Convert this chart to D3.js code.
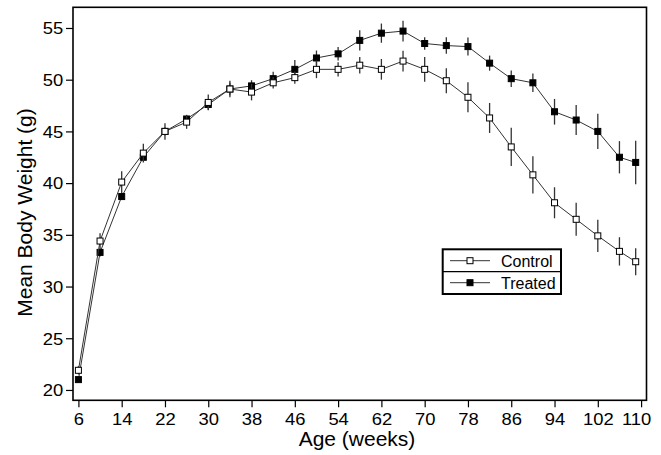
<!DOCTYPE html>
<html>
<head>
<meta charset="utf-8">
<script src="https://cdn.jsdelivr.net/npm/d3@7"></script>
<style>
  html, body { margin: 0; padding: 0; background: #fff; }
  svg { display: block; }
  text { font-family: "Liberation Sans", Arial, Helvetica, sans-serif; fill: #000; }
</style>
</head>
<body>
<svg id="chart" width="661" height="455"></svg>
<script>
// Age at weighing (weeks)
const ages = [6, 10, 14, 18, 22, 26, 30, 34, 38, 42, 46, 50, 54, 58, 62, 66, 70, 74, 78, 82, 86, 90, 94, 98, 102, 106, 109];

// Mean body weight (g) and error bar half-lengths
const controlMean = [21.9, 34.4, 40.1, 42.9, 45.0, 45.9, 47.8, 49.1, 48.8, 49.7, 50.2, 51.0, 51.0, 51.4, 51.0, 51.8, 51.0, 49.9, 48.3, 46.3, 43.5, 40.8, 38.1, 36.5, 34.9, 33.4, 32.4];
const controlErr  = [0.4, 0.75, 1.05, 0.9, 0.8, 0.65, 0.76, 0.8, 0.8, 0.55, 0.6, 0.85, 0.68, 0.8, 1.0, 1.0, 1.2, 1.2, 1.45, 1.45, 1.85, 1.8, 1.5, 1.6, 1.55, 1.37, 1.3];
const treatedMean = [21.0, 33.3, 38.7, 42.5, 45.0, 46.2, 47.6, 49.1, 49.4, 50.1, 51.0, 52.1, 52.5, 53.8, 54.5, 54.7, 53.5, 53.3, 53.2, 51.6, 50.1, 49.7, 46.9, 46.1, 45.0, 42.5, 42.0];
const treatedErr  = [0.2, 0.4, 0.3, 0.3, 0.4, 0.4, 0.5, 0.6, 0.55, 0.67, 0.9, 0.72, 0.65, 0.97, 0.93, 1.0, 0.6, 0.8, 0.87, 0.73, 0.8, 0.9, 1.24, 1.45, 1.7, 1.56, 2.1];

// Axis ticks
const xMajorTicks = [6, 14, 22, 30, 38, 46, 54, 62, 70, 78, 86, 94, 102, 110];
const xMinorTicks = [10, 18, 26, 34, 42, 50, 58, 66, 74, 82, 90, 98, 106];
const yMajorTicks = [20, 25, 30, 35, 40, 45, 50, 55];
const yMinorTicks = d3.range(19, 58).filter(v => v % 5 !== 0);

const seriesNames = ["Control", "Treated"];

const svg = d3.select("#chart");
const plotLeft = 73, plotRight = 646.5, plotTop = 7.3, plotBottom = 400.3;

const x = d3.scaleLinear().domain([5, 111]).range([plotLeft, plotRight]);
const y = d3.scaleLinear().domain([19, 57]).range([plotBottom, plotTop]);

const labelStretch = 1.15;

// X axis
const xAxis = svg.append("g").attr("transform", `translate(0,${plotBottom})`);
xAxis.call(d3.axisBottom(x).tickValues(xMinorTicks).tickSize(4).tickFormat(""));
xAxis.call(d3.axisBottom(x).tickValues(xMajorTicks).tickSize(7).tickFormat(d3.format("d")));
xAxis.selectAll(".domain").remove();
xAxis.selectAll("line").attr("stroke", "#000").attr("stroke-width", 1.2);
xAxis.selectAll("text")
  .attr("y", 0).attr("dy", 0)
  .attr("font-size", 16)
  .attr("transform", d => `translate(${d === 110 ? -5 : 0},24.7) scale(${labelStretch},1)`);

// Y axis
const yAxis = svg.append("g").attr("transform", `translate(${plotLeft},0)`);
yAxis.call(d3.axisLeft(y).tickValues(yMinorTicks).tickSize(4).tickFormat(""));
yAxis.call(d3.axisLeft(y).tickValues(yMajorTicks).tickSize(7).tickFormat(d3.format("d")));
yAxis.selectAll(".domain").remove();
yAxis.selectAll("line").attr("stroke", "#000").attr("stroke-width", 1.2);
yAxis.selectAll("text")
  .attr("x", 0).attr("dy", 0).attr("y", 0)
  .attr("font-size", 16)
  .attr("text-anchor", "end")
  .attr("transform", `translate(-9.7,5.8) scale(${labelStretch},1)`);

// Plot frame
svg.append("rect")
  .attr("x", plotLeft).attr("y", plotTop)
  .attr("width", plotRight - plotLeft).attr("height", plotBottom - plotTop)
  .attr("fill", "none").attr("stroke", "#000").attr("stroke-width", 1.6);

// Axis titles
svg.append("text")
  .attr("x", 357).attr("y", 446)
  .attr("text-anchor", "middle")
  .attr("font-size", 21)
  .text("Age (weeks)");

svg.append("text")
  .attr("transform", "translate(31.5,212.5) rotate(-90)")
  .attr("text-anchor", "middle")
  .attr("font-size", 21)
  .text("Mean Body Weight (g)");

// Series: treated first so the open control squares sit on top
const series = [
  { name: seriesNames[1], mean: treatedMean, err: treatedErr, fill: "#000" },
  { name: seriesNames[0], mean: controlMean, err: controlErr, fill: "#fff" }
];

const line = d3.line().x(d => x(d.age)).y(d => y(d.v));
const markerSize = 6;

series.forEach(s => {
  const pts = ages.map((a, i) => ({ age: a, v: s.mean[i], e: s.err[i] }));
  const g = svg.append("g");

  g.append("path")
    .datum(pts)
    .attr("d", line)
    .attr("fill", "none")
    .attr("stroke", "#333")
    .attr("stroke-width", 1);

  g.selectAll("line.err")
    .data(pts)
    .join("line")
    .attr("class", "err")
    .attr("x1", d => x(d.age)).attr("x2", d => x(d.age))
    .attr("y1", d => y(d.v - d.e)).attr("y2", d => y(d.v + d.e))
    .attr("stroke", "#333")
    .attr("stroke-width", 1.3);

  g.selectAll("rect.mark")
    .data(pts)
    .join("rect")
    .attr("class", "mark")
    .attr("x", d => x(d.age) - markerSize / 2)
    .attr("y", d => y(d.v) - markerSize / 2)
    .attr("width", markerSize).attr("height", markerSize)
    .attr("fill", s.fill)
    .attr("stroke", "#000")
    .attr("stroke-width", 1);
});

// Legend
const legend = svg.append("g");
const lgX0 = 442.7, lgX1 = 561, lgY0 = 249.3, lgY1 = 294, lgMid = 271.7;
legend.append("rect")
  .attr("x", lgX0).attr("y", lgY0)
  .attr("width", lgX1 - lgX0).attr("height", lgY1 - lgY0)
  .attr("fill", "#fff").attr("stroke", "#000").attr("stroke-width", 2);
legend.append("line")
  .attr("x1", lgX0).attr("x2", lgX1).attr("y1", lgMid).attr("y2", lgMid)
  .attr("stroke", "#000").attr("stroke-width", 1.2);

const legendRows = seriesNames.map((n, i) => ({
  name: n,
  fill: i === 0 ? "#fff" : "#000",
  cy: i === 0 ? 260.7 : 282.7
}));
const rows = legend.selectAll("g.row").data(legendRows).join("g").attr("class", "row");
rows.append("line")
  .attr("x1", 450).attr("x2", 490)
  .attr("y1", d => d.cy).attr("y2", d => d.cy)
  .attr("stroke", "#333").attr("stroke-width", 1);
rows.append("rect")
  .attr("x", 470 - 3).attr("y", d => d.cy - 3)
  .attr("width", 6).attr("height", 6)
  .attr("fill", d => d.fill).attr("stroke", "#000").attr("stroke-width", 1);
rows.append("text")
  .attr("x", 501).attr("y", d => d.cy + 5.8)
  .attr("font-size", 16)
  .text(d => d.name);
</script>
</body>
</html>
